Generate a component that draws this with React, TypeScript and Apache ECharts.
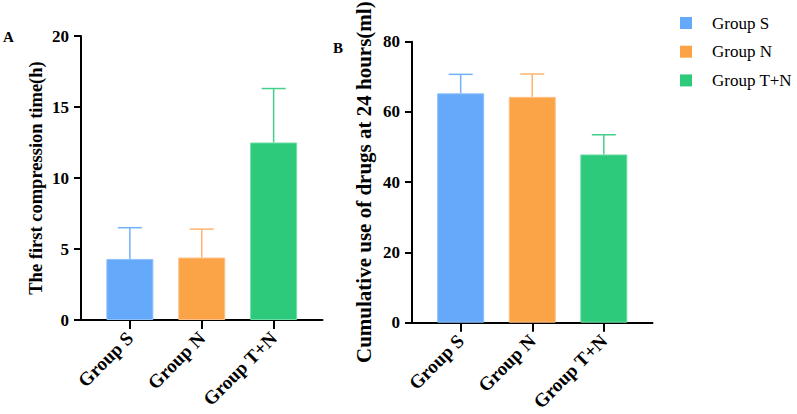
import React, { useEffect, useRef } from "react";
import * as echarts from "echarts";

const groups = ["Group S", "Group N", "Group T+N"];
const colors = ["#64A9FA", "#FBA447", "#2DCA7B"];
const borderColors = ["#8EC1FB", "#FDC089", "#6FDCA6"];
const errColors = ["#72B1FA", "#FDB46E", "#45CF8A"];

const meansA = [4.3, 4.4, 12.5];
const upperA = [6.5, 6.4, 16.3];
const meansB = [65.3, 64.3, 47.9];
const upperB = [70.7, 70.8, 53.5];

const ticksA = { min: 0, max: 20, interval: 5 };
const ticksB = { min: 0, max: 80, interval: 20 };

const titleA = "The first compression time(h)";
const titleB = "Cumulative use of drugs at 24 hours(ml)";

const FONT = "'Liberation Serif', 'Times New Roman', serif";

export default function App() {
  const ref = useRef<HTMLDivElement>(null);
  useEffect(() => {
    if (!ref.current) return;
    const chart = echarts.init(ref.current, null, { renderer: "svg" });

    const xAxisBase = (gridIndex: number) => ({
      type: "value" as const,
      gridIndex,
      min: -0.68,
      max: 2.68,
      splitLine: { show: false },
      axisLine: { show: true, onZero: false, lineStyle: { color: "#000", width: 2 } },
      axisTick: {
        show: true,
        customValues: [0, 1, 2],
        length: 9,
        lineStyle: { color: "#000", width: 2 },
      },
      axisLabel: {
        customValues: [0, 1, 2],
        formatter: (v: number) => groups[Math.round(v)] ?? "",
        rotate: 45,
        margin: 15,
        color: "#000",
        fontFamily: FONT,
        fontWeight: "bold",
        fontSize: 19,
      },
    });

    const yAxisBase = (gridIndex: number, t: any, name: string, gap: number, fs: number) => ({
      type: "value" as const,
      gridIndex,
      min: t.min,
      max: t.max,
      interval: t.interval,
      name,
      nameLocation: "middle",
      nameGap: gap,
      nameTextStyle: {
        color: "#000",
        fontFamily: FONT,
        fontWeight: "bold",
        fontSize: fs,
      },
      splitLine: { show: false },
      axisLine: { show: true, onZero: false, lineStyle: { color: "#000", width: 2 } },
      axisTick: { show: true, length: 7, lineStyle: { color: "#000", width: 2 } },
      axisLabel: {
        margin: 12,
        color: "#000",
        fontFamily: FONT,
        fontWeight: "bold",
        fontSize: 17,
      },
    });

    const barSeries = (idx: number, means: number[]) =>
      groups.map((g, i) => ({
        type: "bar",
        name: g,
        xAxisIndex: idx,
        yAxisIndex: idx,
        barWidth: 47,
        barGap: "-100%",
        data: [[i, means[i]]],
        itemStyle: { color: colors[i], borderColor: borderColors[i], borderWidth: 1 },
        z: 2,
      }));

    const errSeries = (idx: number, means: number[], upper: number[]) => ({
      type: "custom",
      xAxisIndex: idx,
      yAxisIndex: idx,
      z: 1,
      data: means.map((m, i) => [i, m, upper[i]]),
      renderItem: (params: any, api: any) => {
        const i = api.value(0);
        const p0 = api.coord([i, api.value(1)]);
        const p1 = api.coord([i, api.value(2)]);
        const c = errColors[params.dataIndex];
        const half = 12;
        return {
          type: "group",
          children: [
            {
              type: "line",
              shape: { x1: p0[0], y1: p0[1], x2: p1[0], y2: p1[1] },
              style: { stroke: c, lineWidth: 1.5 },
            },
            {
              type: "line",
              shape: { x1: p1[0] - half, y1: p1[1], x2: p1[0] + half, y2: p1[1] },
              style: { stroke: c, lineWidth: 1.5 },
            },
          ],
        };
      },
    });

    const legendItems: any[] = [];
    groups.forEach((g, i) => {
      const cy = 23 + i * 28.7;
      legendItems.push({
        type: "rect",
        shape: { x: 680, y: cy - 6, width: 12, height: 12 },
        style: { fill: colors[i] },
      });
      legendItems.push({
        type: "text",
        x: 712,
        y: cy,
        style: {
          text: g,
          fontFamily: FONT,
          fontSize: 17,
          fill: "#000",
          verticalAlign: "middle",
        },
      });
    });

    chart.setOption({
      animation: false,
      backgroundColor: "#fff",
      grid: [
        { left: 81, top: 36, width: 241.5, height: 284 },
        { left: 412, top: 41.7, width: 240.5, height: 283.3 },
      ],
      xAxis: [xAxisBase(0), xAxisBase(1)],
      yAxis: [
        yAxisBase(0, ticksA, titleA, 36, 18.5),
        yAxisBase(1, ticksB, titleB, 38, 21),
      ],
      graphic: [
        {
          type: "text",
          left: 3,
          top: 29,
          style: { text: "A", font: `bold 15px ${FONT}`, fill: "#000" },
        },
        {
          type: "text",
          left: 333,
          top: 40,
          style: { text: "B", font: `bold 15px ${FONT}`, fill: "#000" },
        },
        ...legendItems,
      ],
      series: [
        ...barSeries(0, meansA),
        errSeries(0, meansA, upperA),
        ...barSeries(1, meansB),
        errSeries(1, meansB, upperB),
      ],
    });
    return () => chart.dispose();
  }, []);
  return (
    <div
      ref={ref}
      style={{ position: "absolute", left: 0, top: 0, width: 797, height: 414 }}
    />
  );
}
